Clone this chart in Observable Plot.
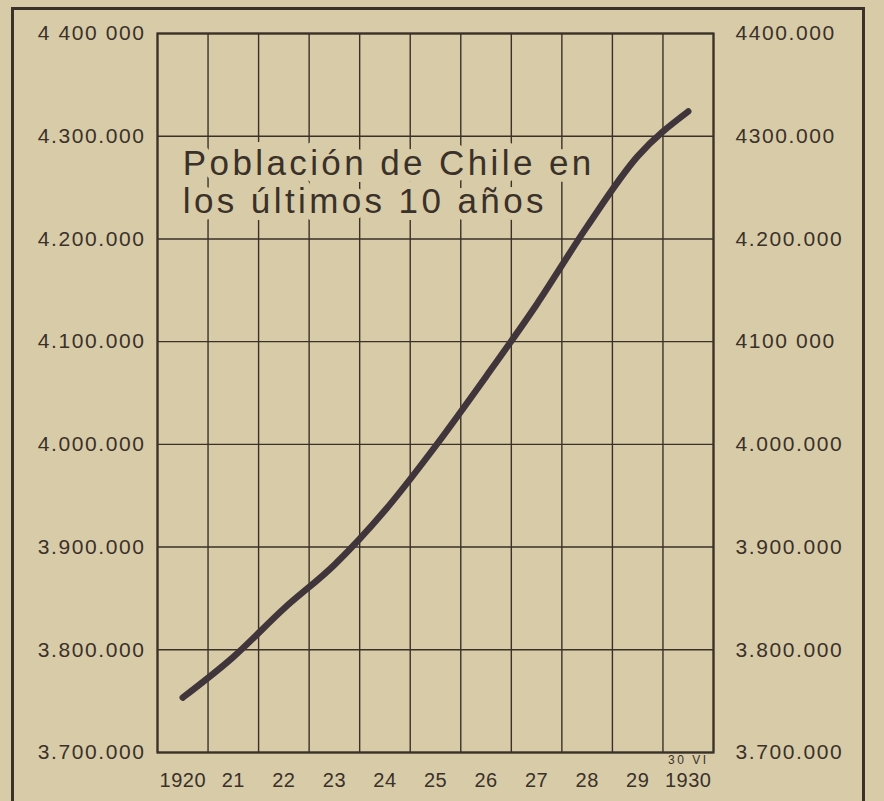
<!DOCTYPE html>
<html>
<head>
<meta charset="utf-8">
<script src="https://cdn.jsdelivr.net/npm/d3@7"></script>
<script src="https://cdn.jsdelivr.net/npm/@observablehq/plot@0.6"></script>
<style>
  html, body { margin: 0; padding: 0; width: 884px; height: 801px; overflow: hidden; background: #d8cba8; }
  #border { position: absolute; left: 11px; top: 7px; width: 848px; height: 900px;
            border-left: 3px solid #3a3129; border-right: 3px solid #3a3129; border-top: 3px solid #3a3129; }
  #chart { position: absolute; left: 0; top: 0; }
</style>
</head>
<body>
<div id="border"></div>
<div id="chart"></div>
<script>
// ---- data ----
const years = [1920, 1921, 1922, 1923, 1924, 1925, 1926, 1927, 1928, 1929, 1930];
const population = [3753500, 3793000, 3840100, 3882700, 3935700, 3998300, 4066000, 4136100, 4212100, 4280500, 4324100];
const yearLabels = ["1920", "21", "22", "23", "24", "25", "26", "27", "28", "29", "1930"];
const yTicks = [3700000, 3800000, 3900000, 4000000, 4100000, 4200000, 4300000, 4400000];
const leftLabels = ["3.700.000", "3.800.000", "3.900.000", "4.000.000", "4.100.000", "4.200.000", "4.300.000", "4 400 000"];
const rightLabels = ["3.700.000", "3.800.000", "3.900.000", "4.000.000", "4100 000", "4.200.000", "4300.000", "4400.000"];
const lastDateNote = "30 VI";
const titleText = "Población de Chile en\nlos últimos 10 años";
const titleYear = 1920;
const titleValue = 4289000;

const ink = "#3a3129";
const lineInk = "#40353a";
const paper = "#d8cba8";

const data = years.map((y, i) => ({year: y, pop: population[i]}));
const gridX = years.map(y => y - 0.5).concat([years[years.length - 1] + 0.5]);
const yTable = yTicks.map((v, i) => ({v, left: leftLabels[i], right: rightLabels[i]}));
const xTable = years.map((y, i) => ({year: y, label: yearLabels[i]}));

const chart = Plot.plot({
  width: 884,
  height: 801,
  marginLeft: 157,
  marginRight: 171,
  marginTop: 33,
  marginBottom: 49,
  x: {domain: [years[0] - 0.5, years[years.length - 1] + 0.5], axis: null},
  y: {domain: [yTicks[0], yTicks[yTicks.length - 1]], axis: null},
  style: {background: "transparent", fontFamily: "'Liberation Sans', Arial, sans-serif", color: ink},
  marks: [
    Plot.ruleX(gridX, {stroke: ink, strokeWidth: 1.4}),
    Plot.ruleY(yTicks, {stroke: ink, strokeWidth: 1.4}),
    Plot.frame({stroke: ink, strokeWidth: 2.2}),
    Plot.text([titleText], {
      x: () => titleYear, y: () => titleValue, text: d => d,
      textAnchor: "start", lineAnchor: "top", lineHeight: 1.09,
      fontSize: 35, fill: ink, stroke: paper, strokeWidth: 14,
      strokeLinejoin: "round", paintOrder: "stroke"
    }),
    Plot.line(data, {x: "year", y: "pop", stroke: lineInk, strokeWidth: 6.5,
      strokeLinecap: "round", strokeLinejoin: "round", curve: "monotone-x"}),
    Plot.text(yTable, {y: "v", text: "left", frameAnchor: "left", textAnchor: "end",
      dx: -12, fontSize: 21, fill: ink}),
    Plot.text(yTable, {y: "v", text: "right", frameAnchor: "right", textAnchor: "start",
      dx: 22, fontSize: 21, fill: ink}),
    Plot.text(xTable, {x: "year", text: "label", frameAnchor: "bottom", lineAnchor: "top",
      dy: 20, fontSize: 20, fill: ink}),
    Plot.text([lastDateNote], {x: () => years[years.length - 1], text: d => d, frameAnchor: "bottom",
      lineAnchor: "middle", dy: 8, fontSize: 12, fill: ink})
  ]
});

document.getElementById("chart").appendChild(chart);
// letter spacing per text group, selected by font size attribute Plot sets on the group
d3.select(chart).selectAll("g").each(function() {
  const fs = this.getAttribute("font-size");
  if (fs === "35") d3.select(this).style("letter-spacing", "3.4px");
  else if (fs === "21") d3.select(this).style("letter-spacing", "1.6px");
  else if (fs === "20") d3.select(this).style("letter-spacing", "0.5px");
  else if (fs === "12") d3.select(this).style("letter-spacing", "2.5px");
});
</script>
</body>
</html>
